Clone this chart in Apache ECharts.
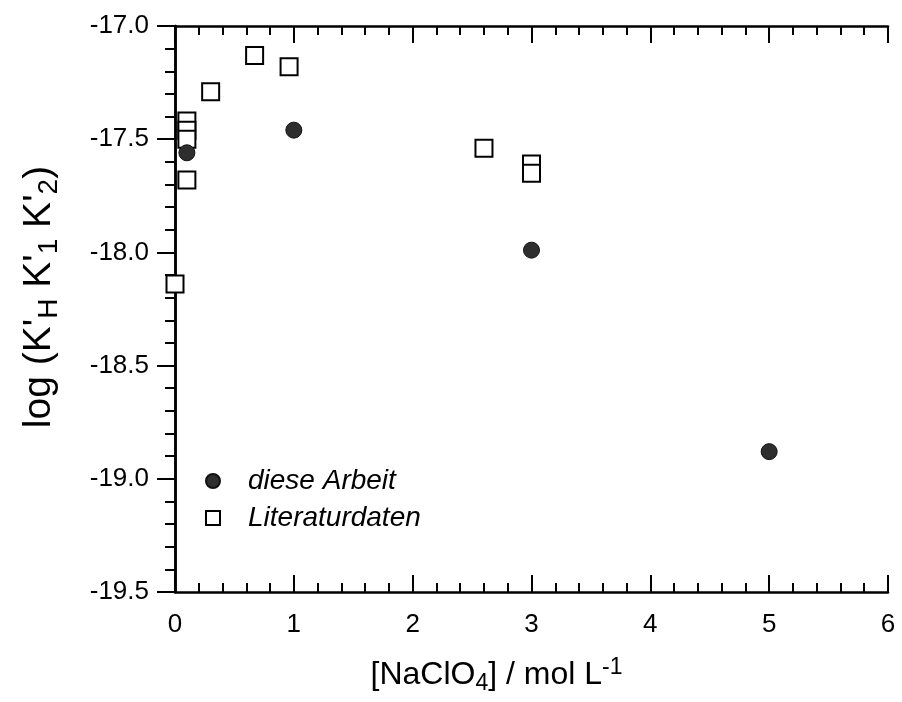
<!DOCTYPE html>
<html><head><meta charset="utf-8">
<script src="https://cdn.jsdelivr.net/npm/echarts@6/dist/echarts.min.js"></script>
<style>html,body{margin:0;padding:0;background:#fff}#c{width:902px;height:702px}</style>
</head><body><div id="c"></div>
<script>
const circleX = [0.1, 1.0, 3.0, 5.0];
const circleY = [-17.56, -17.46, -17.99, -18.88];
const squareX = [0.0, 0.1, 0.1, 0.1, 0.1, 0.3, 0.67, 0.96, 2.6, 3.0, 3.0];
const squareY = [-18.14, -17.68, -17.42, -17.46, -17.50, -17.29, -17.13, -17.18, -17.54, -17.61, -17.65];
const seriesNames = ['diese Arbeit', 'Literaturdaten'];
const xTicks = [0, 1, 2, 3, 4, 5, 6];
const yTicks = [-19.5, -19.0, -18.5, -18.0, -17.5, -17.0];

const FONT = '"Liberation Sans", Arial, sans-serif';
const ax = { lineStyle: { color: '#000', width: 2.5 } };
const chart = echarts.init(document.getElementById('c'));
const xBase = {
  type: 'value', min: xTicks[0], max: xTicks[xTicks.length - 1], interval: 1,
  splitLine: { show: false }, axisLine: ax,
  axisTick: { inside: true, length: 17, lineStyle: { color: '#000', width: 2 } },
  minorTick: { show: true, splitNumber: 5, length: 9, lineStyle: { color: '#000', width: 2 } }
};
const yBase = {
  type: 'value', min: yTicks[0], max: yTicks[yTicks.length - 1], interval: 0.5,
  splitLine: { show: false }, axisLine: ax,
  minorTick: { show: true, splitNumber: 5, length: 10, lineStyle: { color: '#000', width: 2 } }
};
chart.setOption({
  animation: false,
  grid: { left: 175, right: 14, top: 26, bottom: 110, containLabel: false, outerBoundsMode: 'none' },
  xAxis: [
    Object.assign({}, xBase, {
      position: 'bottom',
      axisLabel: { color: '#000', fontSize: 26, fontFamily: FONT, margin: 20 },
      name: '[NaClO{sub|4}] / mol L{sup|-1}',
      nameLocation: 'middle', nameGap: 64,
      nameTextStyle: {
        color: '#000', fontSize: 32, fontFamily: FONT, padding: [0, 70, 0, 0],
        rich: {
          sub: { fontSize: 23, fontFamily: FONT, color: '#000', padding: [16, 0, 0, 0] },
          sup: { fontSize: 23, fontFamily: FONT, color: '#000', padding: [0, 0, 16, 0] }
        }
      }
    }),
    Object.assign({}, xBase, { position: 'top', axisLabel: { show: false } })
  ],
  yAxis: [
    Object.assign({}, yBase, {
      position: 'left',
      axisTick: { inside: false, length: 18, lineStyle: { color: '#000', width: 2 } },
      axisLabel: { color: '#000', fontSize: 26, fontFamily: FONT, margin: 26,
        formatter: v => v.toFixed(1) },
      name: "log (K'{sub|H} K'{sub|1} K'{sub|2})",
      nameLocation: 'middle', nameGap: 112, nameRotate: 90,
      nameTextStyle: {
        color: '#000', fontSize: 39, fontFamily: FONT, padding: [0, 0, 0, 24],
        rich: {
          sub: { fontSize: 28, fontFamily: FONT, color: '#000', padding: [20, 0, 0, 0] }
        }
      }
    }),
    Object.assign({}, yBase, {
      position: 'right',
      axisTick: { inside: true, length: 18, lineStyle: { color: '#000', width: 2 } },
      axisLabel: { show: false }
    })
  ],
  legend: {
    orient: 'vertical', left: 205, top: 467, itemGap: 9, padding: 0,
    itemWidth: 14, itemHeight: 14,
    data: [
      { name: seriesNames[0], icon: 'circle' },
      { name: seriesNames[1], icon: 'rect' }
    ],
    textStyle: { fontSize: 28, fontStyle: 'italic', fontFamily: FONT, color: '#000', padding: [0, 0, 0, 23] }
  },
  series: [
    {
      name: seriesNames[1], type: 'scatter', clip: false, symbol: 'rect', symbolSize: 17,
      itemStyle: { color: '#fff', borderColor: '#000', borderWidth: 2, opacity: 1 },
      data: squareX.map((x, i) => [x, squareY[i]])
    },
    {
      name: seriesNames[0], type: 'scatter', clip: false, symbol: 'circle', symbolSize: 16,
      itemStyle: { color: '#2e2e2e', borderColor: '#111', borderWidth: 1, opacity: 1 },
      data: circleX.map((x, i) => [x, circleY[i]])
    }
  ]
});
</script></body></html>
